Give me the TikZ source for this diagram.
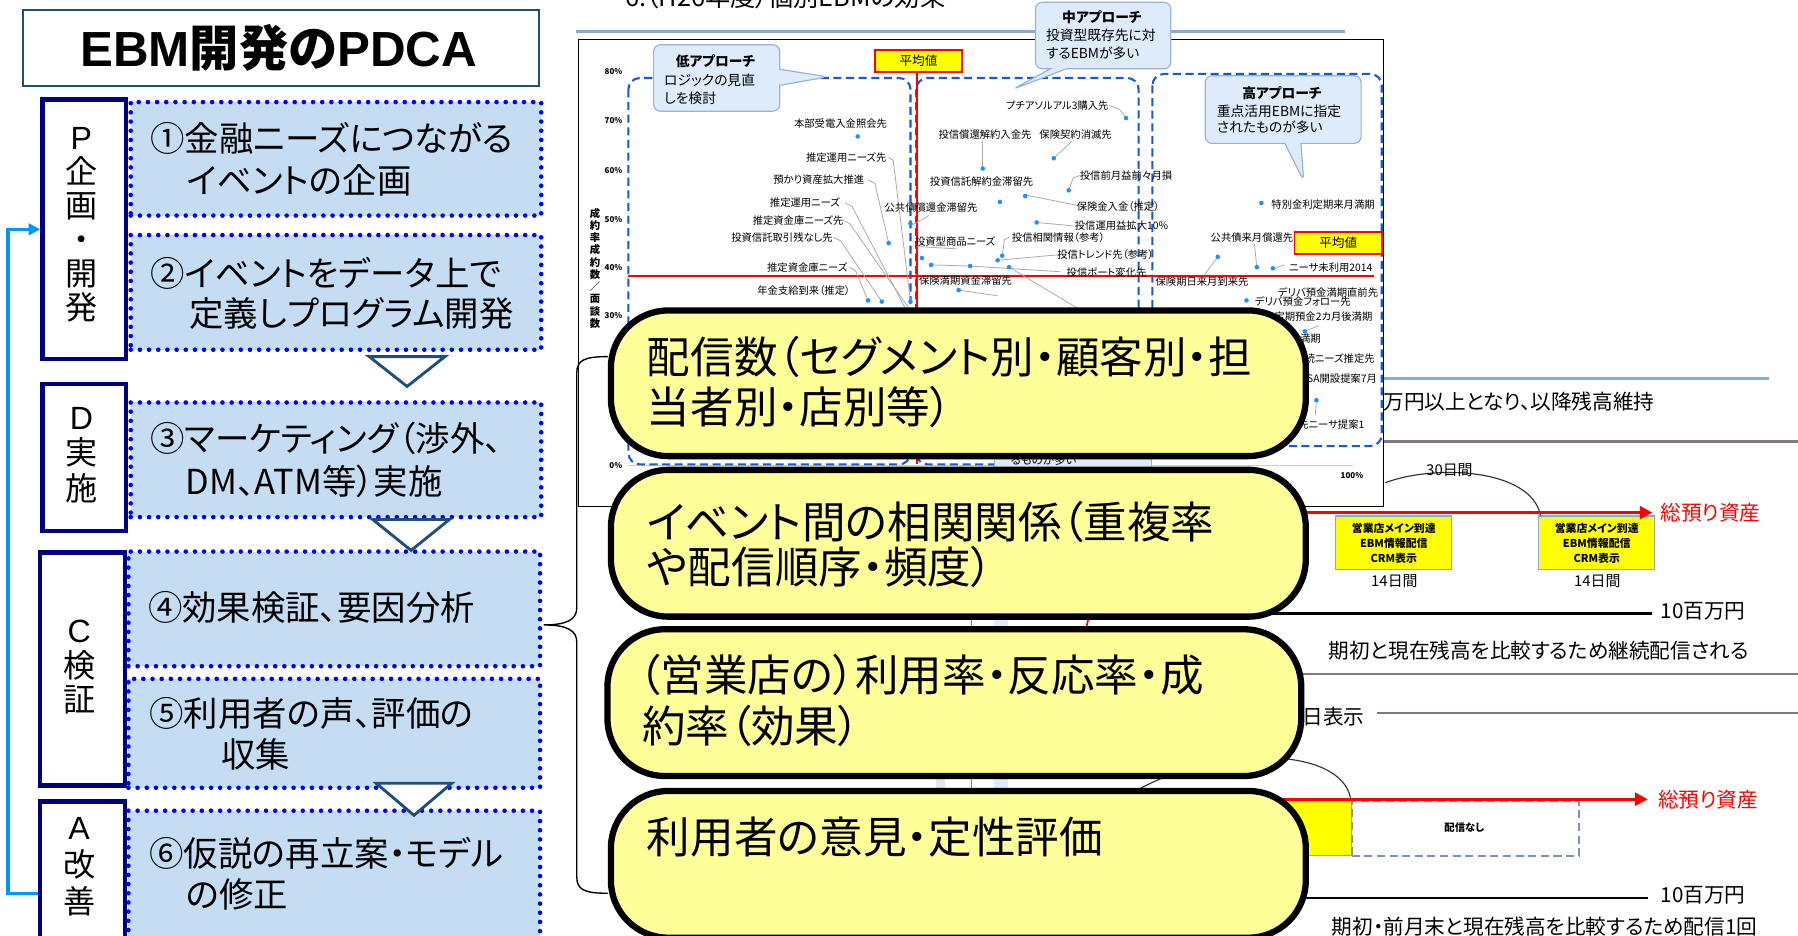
\documentclass[tikz,border=0pt]{standalone}
\usepackage{fontspec}
\setmainfont{Noto Sans CJK JP}[RawFeature=+palt]
\newfontfamily\arialf{Liberation Sans}
\usetikzlibrary{arrows.meta,shapes.callouts}
\definecolor{navy}{RGB}{0,0,128}
\definecolor{dotblue}{RGB}{0,0,255}
\definecolor{itemfill}{RGB}{196,221,243}
\definecolor{triblue}{RGB}{31,78,121}
\definecolor{arrowblue}{RGB}{0,150,255}
\definecolor{bigyellow}{RGB}{255,255,153}
\definecolor{bubfill}{RGB}{221,235,250}
\definecolor{bubdraw}{RGB}{150,180,215}
\definecolor{dashblue}{RGB}{20,90,210}
\definecolor{ptblue}{RGB}{30,144,255}
\definecolor{lineblue}{RGB}{140,170,205}
\definecolor{linegray}{RGB}{130,120,125}
\definecolor{dashgray}{RGB}{125,145,190}
\definecolor{evyellow}{RGB}{255,255,0}
\newcommand{\myfs}[2]{\fontsize{#1}{#2}\selectfont}
\tikzset{
  itembox/.style={draw=dotblue, fill=itemfill, line width=4pt, dash pattern=on 0pt off 8pt, line cap=round, anchor=north west, inner sep=0pt},
  phasebox/.style={draw=navy, fill=white, line width=4pt, anchor=north west, inner sep=0pt},
  flowtri/.style={draw=triblue, fill=white, line width=2.5pt, line join=miter},
  bigbox/.style={draw=black, fill=bigyellow, line width=5.5pt, rounded corners=50pt, anchor=north west, inner sep=0pt},
  itemtxt/.style={anchor=west, inner sep=0pt, font=\myfs{30}{34}},
  bigtxt/.style={anchor=west, inner sep=0pt, font=\myfs{38}{42}},
  lbl/.style={inner sep=0pt, font=\myfs{9}{10}},
  lble/.style={anchor=east, inner sep=0pt, font=\myfs{9}{10}},
  ylbl/.style={inner sep=0pt, font=\bfseries\myfs{7}{8}},
  dotp/.style={circle, fill=ptblue, inner sep=0pt, minimum size=4pt},
  lead/.style={draw=gray!65, line width=0.7pt},
  grpdash/.style={draw=dashblue, line width=1.8pt, dash pattern=on 7pt off 4pt, rounded corners=10pt},
  bubble/.style={rectangle callout, draw=bubdraw, fill=bubfill, line width=1pt, rounded corners=6pt, callout pointer width=14pt, inner sep=0pt},
  avgbox/.style={draw=red, fill=evyellow, line width=1.5pt, minimum width=76pt, minimum height=19pt, inner sep=0pt, font=\myfs{11}{12}},
  evbox/.style={draw=lineblue, fill=evyellow, line width=1pt, minimum width=101pt, minimum height=47pt, inner sep=0pt, align=center, font=\bfseries\myfs{9.5}{13}},
  bigline/.style={font=\myfs{18}{20}, inner sep=0pt},
  redarrow/.style={draw=red, line width=3pt, -{Triangle[length=11pt,width=11pt]}},
  phasetxt/.style={align=center, inner sep=0pt},
}
\begin{document}
\begin{tikzpicture}[x=1pt,y=-1pt]
\useasboundingbox (0,0) rectangle (1568,816);
\clip (0,0) rectangle (1568,816);

% ---------- right background: timeline page ----------
\draw[lineblue, line width=2pt] (1150,330) -- (1543,330);
\node[bigline, anchor=east] (maintain) at (1443,350) {万円以上となり、以降残高維持};
\draw[linegray, line width=2pt] (1150,385) -- (1568,385);

\node[evbox] (ev1) at (1215.5,473.5) {営業店メイン到達\\EBM情報配信\\CRM表示};
\node[evbox] (ev2) at (1392.5,473.5) {営業店メイン到達\\EBM情報配信\\CRM表示};
\coordinate (arcS) at (1208,421);
\draw[black!80, line width=1pt] (arcS) .. controls (1250,405) and (1335,408) .. ([xshift=2pt]ev2.north west);
\node[font=\myfs{13}{15}, inner sep=0pt] (d30) at (1264,410) {30日間};
\coordinate (r1s) at (1090,447);
\coordinate (r1e) at (1441,447);
\draw[redarrow] (r1s) -- (r1e);
\node[font=\myfs{13}{15}, inner sep=0pt] (d14a) at (1216,507) {14日間};
\node[font=\myfs{13}{15}, inner sep=0pt] (d14b) at (1393,507) {14日間};
\node[bigline, red, anchor=west] (asset1) at (1448,447) {総預り資産};
\coordinate (b1s) at (1090,535);
\draw[black, line width=2pt] (b1s) -- (1441,535) coordinate (b1e);
\node[bigline, anchor=west] (m10a) at (1448,533) {10百万円};
\node[bigline] (cmp1) at (1342,567) {期初と現在残高を比較するため継続配信される};
\draw[linegray, line width=2pt] (1100,588) -- (1568,588);
\node[bigline] (disp) at (1163,625) {日表示};
\draw[linegray, line width=2pt] (1201,622) -- (1568,622);

\draw[black!80, line width=1pt] (990,690) .. controls (1060,650) and (1170,650) .. (1178,697);
\node[draw=lineblue, fill=evyellow, anchor=north west, minimum width=178pt, minimum height=48pt, inner sep=0pt] (ev3) at (1000,698) {};
\node[draw=dashgray, line width=1.5pt, dash pattern=on 7pt off 4pt, anchor=north west, minimum width=198pt, minimum height=48pt, inner sep=0pt] (nodist) at (1178,698) {};
\node[font=\bfseries\myfs{9}{10}, inner sep=0pt] (nodistt) at (1277,722) {配信なし};
\coordinate (r2s) at (1090,697);
\coordinate (r2e) at (1437,697);
\draw[redarrow] (r2s) -- (r2e);
\node[bigline, red, anchor=west] (asset2) at (1446,697) {総預り資産};
\coordinate (b2s) at (1090,783);
\draw[black, line width=2pt] (b2s) -- (1437,783) coordinate (b2e);
\node[bigline, anchor=west] (m10b) at (1448,781) {10百万円};
\node[bigline] (cmp2) at (1347,808) {期初・前月末と現在残高を比較するため配信1回};

% scraps between the big boxes
\draw[gray, line width=1pt] (847,400) -- (847,700);
\fill[bubfill] (867,400) rectangle (879,700);
\fill[gray!20] (816,600) rectangle (824,700);
\draw[red, line width=1.5pt] (958,500) -- (940,580);

% ---------- chart ----------
\node[anchor=base west, inner sep=0pt, font=\myfs{22}{24}] (hdr) at (545,6) {6.（H26年度）個別EBMの効果};
\draw[lineblue, line width=2.5pt] (502,27.5) -- (1173,27.5);
\node[draw=black, fill=white, line width=1pt, anchor=north west, minimum width=702pt, minimum height=407pt, inner sep=0pt] (chart) at (504,34) {};

\draw[gray!40, line width=1pt] (548,406) -- (1180,406);
\node[ylbl] (y80) at (535,62) {80\%};
\node[ylbl] (y70) at (535,105) {70\%};
\node[ylbl] (y60) at (535,149) {60\%};
\node[ylbl] (y50) at (535,191) {50\%};
\node[ylbl] (y40) at (535,233) {40\%};
\node[ylbl] (y30) at (535,275) {30\%};
\node[ylbl] (y0) at (537,406) {0\%};
\node[ylbl] (x100) at (1179,415) {100\%};
\node[font=\bfseries\myfs{9}{10.7}, align=center, inner sep=0pt] (ytitle) at (519,234) {成\\約\\率\\成\\約\\数\\／\\面\\談\\数};

\draw[grpdash] (548,68) rectangle (794,405);
\draw[grpdash] (799,68) rectangle (993,405);
\draw[grpdash] (1005,64.5) rectangle (1205,389);
\draw[red, line width=1.5pt] (800,62) -- (800,405);
\draw[red, line width=1.5pt] (548,241) -- (1198,241);

\node[bubble, callout absolute pointer={(722,67)}, minimum width=110pt, minimum height=58pt] (bubL) at (625,68) {};
\node[bubble, callout absolute pointer={(883,78)}, minimum width=118pt, minimum height=58pt] (bubM) at (962,31) {};
\node[bubble, callout absolute pointer={(1137,158)}, minimum width=136pt, minimum height=59pt] (bubH) at (1119,95.5) {};
\node[font=\bfseries\myfs{12}{13}, inner sep=0pt] (bubL1) at (624,53) {低アプローチ};
\node[anchor=west, font=\myfs{12}{13}, inner sep=0pt] (bubL2) at (579,70) {ロジックの見直};
\node[anchor=west, font=\myfs{12}{13}, inner sep=0pt] (bubL3) at (579,86) {しを検討};
\node[font=\bfseries\myfs{12}{13}, inner sep=0pt] (bubM1) at (961,15) {中アプローチ};
\node[anchor=west, font=\myfs{12}{13}, inner sep=0pt] (bubM2) at (912,31) {投資型既存先に対};
\node[anchor=west, font=\myfs{12}{13}, inner sep=0pt] (bubM3) at (912,46) {するEBMが多い};
\node[font=\bfseries\myfs{12}{13}, inner sep=0pt] (bubH1) at (1118,81) {高アプローチ};
\node[anchor=west, font=\myfs{12}{13}, inner sep=0pt] (bubH2) at (1061,97) {重点活用EBMに指定};
\node[anchor=west, font=\myfs{12}{13}, inner sep=0pt] (bubH3) at (1061,111) {されたものが多い};

\node[avgbox] (avg1) at (801,53) {平均値};
\node[avgbox] (avg2) at (1167,212) {平均値};

% leader lines
\draw[lead] (775,137) -- (779,140) -- (794,263);
\draw[lead] (757,157) -- (763,160) -- (775,212);
\draw[lead] (737,177) -- (743,180) -- (789,268);
\draw[lead] (735,192) -- (741,195) -- (792,268);
\draw[lead] (727,207) -- (733,210) -- (769,263);
\draw[lead] (741,233) -- (746,236) -- (757,262);
\draw[lead] (810,188) -- (796,196);
\draw[lead] (967,92) -- (976,95) -- (982,103);
\draw[lead] (857,123) -- (857,147);
\draw[lead] (935,123) -- (919,138);
\draw[lead] (942,153) -- (936,155) -- (932,166);
\draw[lead] (939,179) -- (894,170);
\draw[lead] (936,197) -- (904,194);
\draw[lead] (800,215) -- (834,217);
\draw[lead] (880,207) -- (876,209) -- (874,223);
\draw[lead] (925,222) -- (870,227);
\draw[lead] (925,237) -- (846,232);
\draw[lead] (812,231) -- (846,232);
\draw[lead] (880,233) -- (950,275);
\draw[lead] (836,253) -- (870,258);
\draw[lead] (1094,213) -- (1096,233);
\draw[lead] (1062,224) -- (1050,240);
\draw[lead] (1112,234) -- (1120,231);
\draw[lead] (1138,289) -- (1150,284);
\draw[lead] (1148,349) -- (1147,362);

% points
\foreach \p/\q in {748/119, 775/212, 794/195, 757/262, 769/263, 794/263, 982/103, 857/147, 919/138, 932/166, 872/176, 894/171, 904/194, 874/223, 870/227, 812/231, 846/232, 880/233, 804/225, 836/253, 1100/177, 1062/224, 1096/233, 1110/234, 1087/262, 1138/289, 1148/349}
  \node[dotp] at (\p,\q) {};

% labels
\node[lbl] (l1) at (733,108) {本部受電入金照会先};
\node[lbl] (l2) at (738,137) {推定運用ニーズ先};
\node[lbl] (l3) at (714,157) {預かり資産拡大推進};
\node[lbl] (l4) at (702,177) {推定運用ニーズ};
\node[lbl] (l5) at (696,192) {推定資金庫ニーズ先};
\node[lbl] (l6) at (682,207) {投資信託取引残なし先};
\node[lbl] (l7) at (704,233) {推定資金庫ニーズ};
\node[lbl] (l8) at (701,253) {年金支給到来（推定）};
\node[lbl] (l9) at (812,181) {公共債償還金滞留先};
\node[lbl] (m1) at (922,92) {プチアソルアル3購入先};
\node[lbl] (m2) at (859,117) {投信償還解約入金先};
\node[lbl] (m3) at (938,117) {保険契約消滅先};
\node[lbl] (m4) at (982,153) {投信前月益前々月損};
\node[lbl] (m5) at (856,158) {投資信託解約金滞留先};
\node[lbl] (m6) at (975,180) {保険金入金（推定）};
\node[lbl] (m7) at (978,197) {投信運用益拡大10\%};
\node[lbl] (m8) at (833,211) {投資型商品ニーズ};
\node[lbl] (m9) at (923,207) {投信相関情報（参考）};
\node[lbl] (m10) at (964,222) {投信トレンド先（参考）};
\node[lbl] (m11) at (965,238) {投信ポート変化先};
\node[lbl] (m12) at (842,245) {保険満期資金滞留先};
\node[lble] (h1) at (1199,178) {特別金利定期来月満期};
\node[lble] (h2) at (1128,207) {公共債来月償還先};
\node[lble] (h3) at (1197,233) {ニーサ未利用2014};
\node[lble] (h4) at (1089,246) {保険期日来月到来先};
\node[lble] (h5) at (1202,255) {デリバ預金満期直前先};
\node[lble] (h6) at (1178,263) {デリバ預金フォロー先};
\node[lble] (h7) at (1197,276) {定期預金2カ月後満期};
\node[lble] (h8) at (1152,295) {満期};
\node[lble] (h9) at (1199,313) {継続ニーズ推定先};
\node[lble] (h10) at (1201,330) {NISA開設提案7月};
\node[lble] (h11) at (1190,370) {先ニーサ提案1};

\node[draw=bubdraw, fill=bubfill, anchor=north west, minimum width=137pt, minimum height=30pt, inner sep=0pt] (scrap) at (867,378) {};
\node[font=\myfs{10}{11}, inner sep=0pt] (scrapt) at (910,401) {るものが多い};

% ---------- left column: PDCA ----------
\node[draw=triblue, line width=2pt, fill=white, anchor=north west, minimum width=450pt, minimum height=66pt, inner sep=0pt] (title) at (19,8) {};
\node[font=\bfseries\myfs{43}{48}, inner sep=0pt] (titlet) at (243,42) {{\arialf\bfseries EBM}開発の{\arialf\bfseries PDCA}};

\node[phasebox, minimum width=73pt, minimum height=226pt] (pP) at (35,85) {};
\node[phasebox, minimum width=73pt, minimum height=128pt] (pD) at (35,333) {};
\node[phasebox, minimum width=74pt, minimum height=203pt] (pC) at (33,480) {};
\node[phasebox, minimum width=74pt, minimum height=140pt] (pA) at (33,697) {};

\node[phasetxt, font=\myfs{28}{29.5}] (pPt) at (71,196) {{\arialf P}\\企\\画\\・\\開\\発};
\node[phasetxt, font=\myfs{28}{31}] (pDt) at (71,397) {{\arialf D}\\実\\施};
\node[phasetxt, font=\myfs{28}{30}] (pCt) at (69,582) {{\arialf C}\\検\\証};
\node[phasetxt, font=\myfs{28}{32}] (pAt) at (69,756) {{\arialf A}\\改\\善};

\node[itembox, minimum width=358pt, minimum height=99pt] (i1) at (112,87) {};
\node[itembox, minimum width=358pt, minimum height=100pt] (i2) at (112,203) {};
\node[itembox, minimum width=358pt, minimum height=100pt] (i3) at (112,349) {};
\node[itembox, minimum width=359pt, minimum height=100pt] (i4) at (110,479) {};
\node[itembox, minimum width=359pt, minimum height=95pt] (i5) at (110,590) {};
\node[itembox, minimum width=359pt, minimum height=130pt] (i6) at (110,705) {};

\node[itemtxt] (t1a) at (131,121) {①金融ニーズにつながる};
\node[itemtxt] (t1b) at (163,157) {イベントの企画};
\node[itemtxt] (t2a) at (131,238) {②イベントをデータ上で};
\node[itemtxt] (t2b) at (165,273) {定義しプログラム開発};
\node[itemtxt] (t3a) at (131,382) {③マーケティング（渉外、};
\node[itemtxt] (t3b) at (162,420) {DM、ATM等）実施};
\node[itemtxt] (t4a) at (129,530) {④効果検証、要因分析};
\node[itemtxt] (t5a) at (130,622) {⑤利用者の声、評価の};
\node[itemtxt] (t5b) at (193,658) {収集};
\node[itemtxt] (t6a) at (130,744) {⑥仮説の再立案・モデル};
\node[itemtxt] (t6b) at (162,780) {の修正};

\draw[flowtri] (322,311) -- (388,311) -- (355,337) -- cycle;
\draw[flowtri] (325,453) -- (392,453) -- (358.5,480) -- cycle;
\draw[flowtri] (328,683) -- (394,683) -- (361,711) -- cycle;

\coordinate (loopA) at (0,779);
\coordinate (loopP) at (0,200);
\draw[arrowblue, line width=2.8pt, -{Triangle[length=10pt,width=10pt]}] (pA.west |- loopA) -- (7,779) -- (7,200) -- (pP.west |- loopP);

% ---------- brace ----------
\coordinate (brTop) at (530,311);
\coordinate (brTip) at (474,545);
\coordinate (brBot) at (530,779);
\draw[black, line width=1.2pt] (brTop) .. controls (510,311) and (503,314) .. (503,325) -- (503,530) .. controls (503,540) and (495,545) .. (brTip) .. controls (495,545) and (503,550) .. (503,560) -- (503,765) .. controls (503,776) and (510,779) .. (brBot);

% ---------- big yellow boxes ----------
\node[bigbox, minimum width=606pt, minimum height=127pt] (Y1) at (530,268) {};
\node[bigbox, minimum width=606pt, minimum height=128pt] (Y2) at (530,407) {};
\node[bigbox, minimum width=605pt, minimum height=128pt] (Y3) at (527,546) {};
\node[bigbox, minimum width=606pt, minimum height=128pt] (Y4) at (530,687) {};
\node[bigtxt] (Y1a) at (564,311) {配信数（セグメント別・顧客別・担};
\node[bigtxt] (Y1b) at (564,355) {当者別・店別等）};
\node[bigtxt] (Y2a) at (564,455) {イベント間の相関関係（重複率};
\node[bigtxt] (Y2b) at (564,494) {や配信順序・頻度）};
\node[bigtxt] (Y3a) at (557,589) {（営業店の）利用率・反応率・成};
\node[bigtxt] (Y3b) at (560,633) {約率（効果）};
\node[bigtxt] (Y4a) at (564,730) {利用者の意見・定性評価};
\end{tikzpicture}
\end{document}
